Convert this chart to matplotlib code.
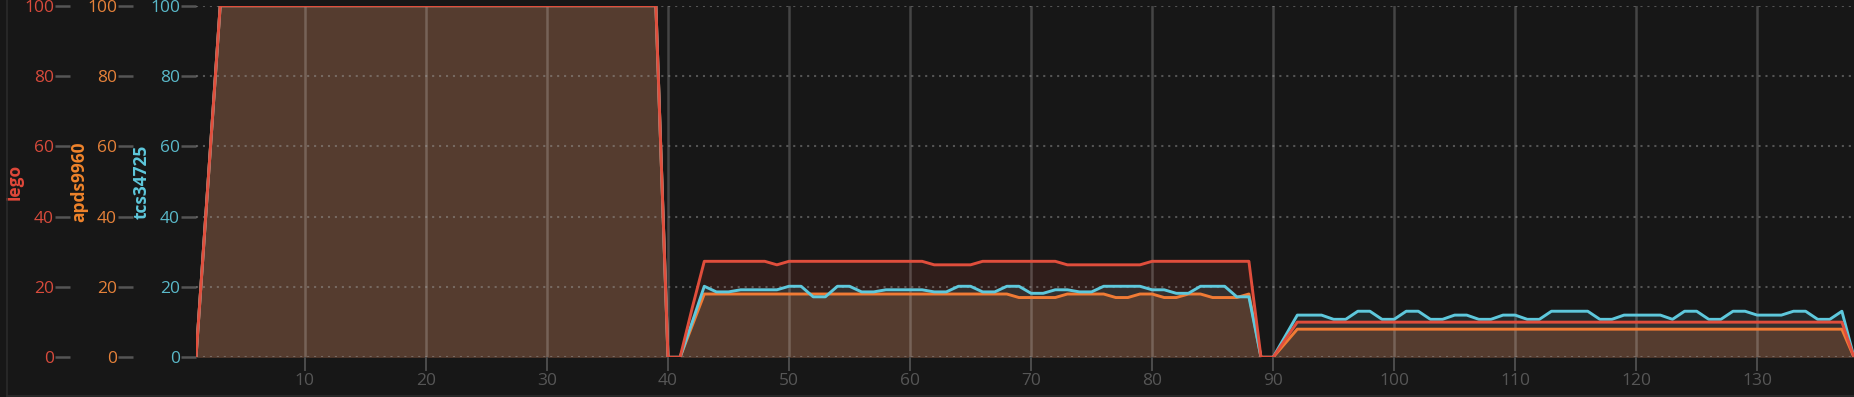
import numpy as np
import matplotlib
matplotlib.use("Agg")
from matplotlib import pyplot as plt
from matplotlib.ticker import MultipleLocator
from matplotlib.lines import Line2D

plt.rcParams['font.family'] = ['Open Sans', 'DejaVu Sans']
plt.rcParams['lines.scale_dashes'] = False

# sample index along the x axis
samples = list(range(1, 139))

lego = [0, 50, 100, 100, 100, 100, 100, 100, 100, 100,
        100, 100, 100, 100, 100, 100, 100, 100, 100, 100,
        100, 100, 100, 100, 100, 100, 100, 100, 100, 100,
        100, 100, 100, 100, 100, 100, 100, 100, 100, 0,
        0, 14, 27.3, 27.3, 27.3, 27.3, 27.3, 27.3, 26.3, 27.3,
        27.3, 27.3, 27.3, 27.3, 27.3, 27.3, 27.3, 27.3, 27.3, 27.3,
        27.3, 26.3, 26.3, 26.3, 26.3, 27.3, 27.3, 27.3, 27.3, 27.3,
        27.3, 27.3, 26.3, 26.3, 26.3, 26.3, 26.3, 26.3, 26.3, 27.3,
        27.3, 27.3, 27.3, 27.3, 27.3, 27.3, 27.3, 27.3, 0, 0,
        5, 10, 10, 10, 10, 10, 10, 10, 10, 10,
        10, 10, 10, 10, 10, 10, 10, 10, 10, 10,
        10, 10, 10, 10, 10, 10, 10, 10, 10, 10,
        10, 10, 10, 10, 10, 10, 10, 10, 10, 10,
        10, 10, 10, 10, 10, 10, 10, 0]

apds9960 = [0, 50, 100, 100, 100, 100, 100, 100, 100, 100,
            100, 100, 100, 100, 100, 100, 100, 100, 100, 100,
            100, 100, 100, 100, 100, 100, 100, 100, 100, 100,
            100, 100, 100, 100, 100, 100, 100, 100, 100, 0,
            0, 9, 18, 18, 18, 18, 18, 18, 18, 18,
            18, 18, 18, 18, 18, 18, 18, 18, 18, 18,
            18, 18, 18, 18, 18, 18, 18, 18, 17, 17,
            17, 17, 18, 18, 18, 18, 17, 17, 18, 18,
            17, 17, 18, 18, 17, 17, 17, 18, 0, 0,
            4, 8, 8, 8, 8, 8, 8, 8, 8, 8,
            8, 8, 8, 8, 8, 8, 8, 8, 8, 8,
            8, 8, 8, 8, 8, 8, 8, 8, 8, 8,
            8, 8, 8, 8, 8, 8, 8, 8, 8, 8,
            8, 8, 8, 8, 8, 8, 8, 0]

tcs34725 = [0, 50, 100, 100, 100, 100, 100, 100, 100, 100,
            100, 100, 100, 100, 100, 100, 100, 100, 100, 100,
            100, 100, 100, 100, 100, 100, 100, 100, 100, 100,
            100, 100, 100, 100, 100, 100, 100, 100, 100, 0,
            0, 10, 20.2, 18.6, 18.6, 19.2, 19.2, 19.2, 19.2, 20.2,
            20.2, 17.2, 17.2, 20.2, 20.2, 18.6, 18.6, 19.2, 19.2, 19.2,
            19.2, 18.6, 18.6, 20.2, 20.2, 18.6, 18.6, 20.2, 20.2, 18.2,
            18.2, 19.2, 19.2, 18.6, 18.6, 20.2, 20.2, 20.2, 20.2, 19.2,
            19.2, 18.2, 18.2, 20.2, 20.2, 20.2, 17.2, 17.2, 0, 0,
            6, 12, 12, 12, 10.8, 10.8, 13.1, 13.1, 10.8, 10.8,
            13.1, 13.1, 10.8, 10.8, 12, 12, 10.8, 10.8, 12, 12,
            10.8, 10.8, 13.1, 13.1, 13.1, 13.1, 10.8, 10.8, 12, 12,
            12, 12, 10.8, 13.1, 13.1, 10.8, 10.8, 13.1, 13.1, 12,
            12, 12, 13.1, 13.1, 10.8, 10.8, 13.1, 0]

y_ticks = [0, 20, 40, 60, 80, 100]

bg = '#171717'
red, orange, cyan = '#e04e3c', '#f07b35', '#5ec8dc'

W, H = 1854, 397
fig = plt.figure(figsize=(W / 100, H / 100), dpi=100, facecolor=bg)
ax = fig.add_axes([196 / W, 39.7 / H, (W - 196) / W, 351.6 / H])
ax.set_facecolor(bg)

# fills first, then lines on top
ax.fill_between(samples, lego, color=red, alpha=0.13, lw=0, zorder=1)
ax.fill_between(samples, tcs34725, color=cyan, alpha=0.10, lw=0, zorder=1)
ax.fill_between(samples, apds9960, color=orange, alpha=0.18, lw=0, zorder=1)

for v in range(10, 140, 10):
    ax.axvline(v, color='white', alpha=0.2, lw=1.8, zorder=1.5)
for v in y_ticks:
    ax.axhline(v, color='#a0a0a0', alpha=0.45, lw=1.5,
               linestyle=(0, (1.5, 3.5)), dash_capstyle='butt', zorder=1.6)

ax.plot(samples, apds9960, color=orange, lw=2.1, zorder=3)
ax.plot(samples, tcs34725, color=cyan, lw=2.1, zorder=3.1)
ax.plot(samples, lego, color=red, lw=2.1, zorder=3.2)

ax.set_xlim(1, 138)
ax.set_ylim(0, 100)
ax.xaxis.set_major_locator(MultipleLocator(10))
ax.tick_params(axis='x', length=10, width=1.44, color='#4a4a4a',
               labelcolor='#565656', labelsize=12.5, pad=1)
for s in ax.spines.values():
    s.set_visible(False)

# three y axes, same 0-100 range
ax_apds = ax.twinx()
ax_lego = ax.twinx()
axes_info = [(ax, 0, 'tcs34725', '#5ab9c9', cyan, 142),
             (ax_apds, 63, 'apds9960', '#e6823a', '#f0842c', 79),
             (ax_lego, 126, 'lego', '#d84b3c', '#e0483a', 15)]
for a, off, name, tick_col, lab_col, lab_x in axes_info:
    a.set_ylim(0, 100)
    a.set_yticks(y_ticks)
    for s in a.spines.values():
        s.set_visible(False)
    a.yaxis.set_ticks_position('left')
    a.yaxis.set_label_position('left')
    a.spines['left'].set_position(('outward', off * 0.72))
    a.tick_params(axis='y', length=11, width=1.8, color='#555555',
                  labelcolor=tick_col, labelsize=12.5, pad=0.5)
    a.set_ylabel(name, color=lab_col, fontsize=12.5, fontweight='bold')
    a.yaxis.label.set_va('center')
    a.yaxis.set_label_coords((lab_x - 196) / (W - 196), 0.5)

fig.add_artist(Line2D([6.5 / W, 6.5 / W], [1.5 / H, 1], color='#2c2c2c', lw=1.1))
fig.add_artist(Line2D([6.5 / W, 1], [1.5 / H, 1.5 / H], color='#2c2c2c', lw=1.1))

fig.savefig('out.png', dpi=100, facecolor=bg)
